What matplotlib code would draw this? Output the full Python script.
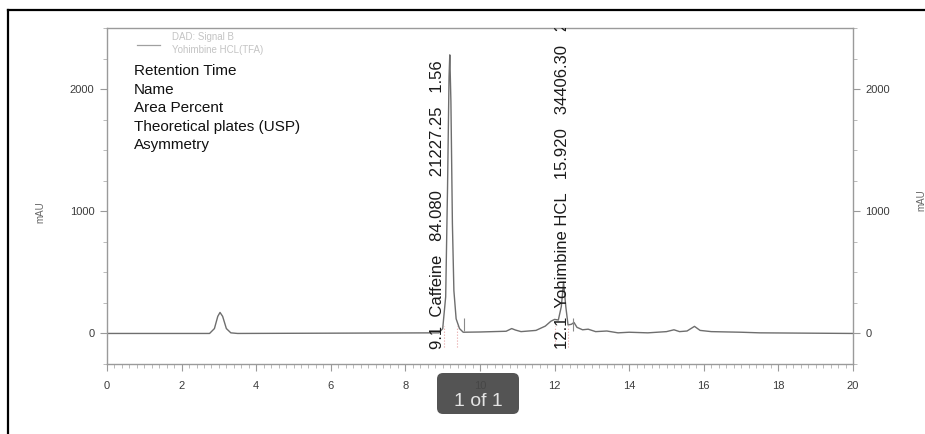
import matplotlib
matplotlib.use("Agg")
import matplotlib.pyplot as plt
from matplotlib.lines import Line2D
from matplotlib.patches import FancyBboxPatch
from matplotlib.ticker import MultipleLocator

plt.rcParams['font.family'] = ['Liberation Sans', 'DejaVu Sans']

# === DATA: trace (min, mAU) ===
trace_time = [0.0, 2.75, 2.88, 2.97, 3.03, 3.1, 3.2, 3.32, 3.5,
              8.9, 9.0, 9.08, 9.13, 9.17, 9.19, 9.22, 9.26, 9.3, 9.36, 9.45, 9.55,
              10.0, 10.7, 10.85, 10.95, 11.1, 11.5, 11.75, 11.9, 12.0, 12.1, 12.18, 12.24, 12.3, 12.36,
              12.45, 12.52, 12.6, 12.75, 12.9, 13.1, 13.4, 13.7, 14.0, 14.5, 15.0, 15.2, 15.35, 15.55,
              15.75, 15.9, 16.2, 17.0, 17.5, 20.0]
trace_mau = [0, 0, 40, 140, 172, 140, 40, 5, 0,
             5, 40, 300, 1200, 2100, 2280, 1900, 900, 350, 120, 40, 10,
             12, 18, 40, 28, 15, 25, 60, 100, 115, 110, 220, 420, 220, 70,
             75, 90, 50, 30, 35, 15, 20, 5, 10, 5, 15, 30, 15, 20,
             58, 25, 15, 10, 5, 0]

# peak annotations: label position, retention time label, name, area %, plates, asymmetry
peak_label_x = [8.86, 12.2]
peak_rt = ["9.1", "12.1"]
peak_name = ["Caffeine", "Yohimbine HCL"]
peak_area = ["84.080", "15.920"]
peak_plates = ["21227.25", "34406.30"]
peak_asym = ["1.56", "2.18"]
peak_end_tick = [9.56, 12.48]
peak_marks = [(9.03, 9.38), (12.0, 12.36)]

header_rows = ["Retention Time", "Name", "Area Percent", "Theoretical plates (USP)", "Asymmetry"]
legend_rows = ["DAD: Signal B", "Yohimbine HCL(TFA)"]

W, H = 925, 434
fig = plt.figure(figsize=(W / 100, H / 100), dpi=100)
ax = fig.add_axes([107 / W, 1 - 364 / H, (853 - 107) / W, (364 - 28) / H])

grey = '#9a9a9a'
ax.plot(trace_time, trace_mau, color='#6e6e6e', lw=1.0, zorder=2)

# integration marks
for t0, t1 in peak_marks:
    ax.vlines([t0, t1], -110, 60, color='#e6a3a3', lw=0.8, linestyles=':', zorder=1)
ax.vlines(peak_end_tick, 20, 130, color='#8a8a8a', lw=0.8, zorder=2)

ax.set_xlim(0, 20)
ax.set_ylim(-250, 2500)
ax.xaxis.set_major_locator(MultipleLocator(2))
ax.xaxis.set_minor_locator(MultipleLocator(0.2))
ax.yaxis.set_major_locator(MultipleLocator(1000))
ax.yaxis.set_minor_locator(MultipleLocator(250))
ax.tick_params(axis='both', which='major', colors=grey, labelcolor='#3c3c3c',
               labelsize=8, length=5, width=0.8)
ax.tick_params(axis='both', which='minor', colors='#b0b0b0', length=3, width=0.6)
ax.tick_params(axis='x', which='major', pad=7)
ax.tick_params(axis='y', which='both', right=True, labelright=True, left=True, labelleft=True)
ax.tick_params(axis='y', which='major', pad=4)
for s in ax.spines.values():
    s.set_color(grey)
    s.set_linewidth(1.0)

# peak labels (rotated, clipped at axes top)
for i in range(len(peak_rt)):
    label = f"{peak_rt[i]}  {peak_name[i]}   {peak_area[i]}   {peak_plates[i]}   {peak_asym[i]}"
    ax.text(peak_label_x[i], -125, label, rotation=90, ha='center', va='bottom',
            fontsize=12, color='#1a1a1a', zorder=3, clip_on=True)

# header text block
for k, row in enumerate(header_rows):
    ax.text(0.036, (364 - (71 + k * 18.5)) / 336, row, transform=ax.transAxes,
            ha='left', va='center', fontsize=11, color='#111111')

# faded legend
ax.add_line(Line2D([(137 - 107) / 746, (160 - 107) / 746], [(364 - 45) / 336] * 2,
                   transform=ax.transAxes, color='#a0a0a0', lw=0.9))
for k, row in enumerate(legend_rows):
    ax.text((172 - 107) / 746, (364 - (37 + k * 13)) / 336, row, transform=ax.transAxes,
            ha='left', va='center', fontsize=7, color='#c4c4c4')

# axis unit labels
fig.text(40 / W, 1 - 212 / H, "mAU", rotation=90, ha='center', va='center',
         fontsize=7, color='#666666')
fig.text(921 / W, 1 - 200 / H, "mAU", rotation=90, ha='center', va='center',
         fontsize=7, color='#666666')

# screenshot frame (left and top edges)
fig.add_artist(Line2D([8 / W, 8 / W], [0, 1 - 10 / H], transform=fig.transFigure,
                      color='black', lw=1.6))
fig.add_artist(Line2D([8 / W, 1], [1 - 10 / H, 1 - 10 / H], transform=fig.transFigure,
                      color='black', lw=1.6))

# page indicator overlay
box = FancyBboxPatch((437, H - 414), 82, 41, boxstyle="round,pad=0,rounding_size=6",
                     transform=None, facecolor='#474747', edgecolor='none', alpha=0.93, zorder=10)
fig.add_artist(box)
fig.text(478 / W, 1 - 402 / H, "1 of 1", ha='center', va='center', fontsize=14,
         color='#e4e4e4', zorder=11)

fig.savefig("out.png", dpi=100)
